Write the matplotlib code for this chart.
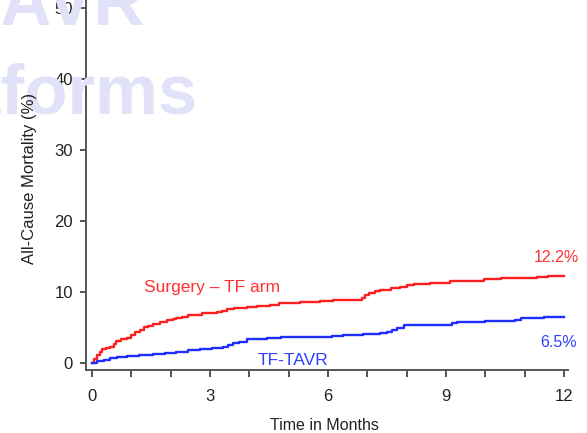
import numpy as np
import matplotlib
matplotlib.use("Agg")
from matplotlib import pyplot as plt
from matplotlib.ticker import MultipleLocator

plt.rcParams['font.family'] = ['Liberation Sans', 'DejaVu Sans']

# Kaplan-Meier style step data (months, cumulative mortality %)
surg_t = [0, 0.05, 0.12, 0.2, 0.25, 0.35, 0.46, 0.55, 0.62, 0.75, 0.88, 1.0, 1.1, 1.22,
          1.33, 1.43, 1.55, 1.73, 1.9, 2.05, 2.15, 2.3, 2.45, 2.58, 2.8, 3.17, 3.3, 3.43,
          3.6, 3.8, 3.94, 4.2, 4.53, 4.75, 4.95, 5.3, 5.8, 6.13, 6.5, 6.86, 6.95, 7.03,
          7.2, 7.33, 7.6, 7.84, 8.0, 8.18, 8.6, 9.1, 9.5, 9.96, 10.4, 10.81, 11.3, 11.6, 12.0]
surg_v = [0, 0.5, 1.1, 1.5, 1.9, 2.1, 2.3, 2.7, 3.1, 3.3, 3.5, 3.9, 4.3, 4.7,
          5.0, 5.2, 5.5, 5.8, 6.0, 6.2, 6.3, 6.5, 6.7, 6.8, 7.0, 7.1, 7.3, 7.6,
          7.7, 7.8, 7.9, 8.0, 8.2, 8.4, 8.5, 8.6, 8.7, 8.8, 8.9, 9.1, 9.5, 9.9,
          10.1, 10.3, 10.5, 10.7, 10.9, 11.1, 11.3, 11.5, 11.6, 11.8, 11.9, 12.0, 12.1, 12.2, 12.2]

tavr_t = [0, 0.12, 0.3, 0.46, 0.65, 0.88, 1.2, 1.56, 1.85, 2.15, 2.45, 2.75, 3.05, 3.34,
          3.45, 3.59, 3.75, 3.94, 4.44, 4.8, 5.12, 6.1, 6.38, 6.9, 7.33, 7.5, 7.62, 7.75,
          7.92, 8.5, 9.02, 9.15, 9.28, 10.0, 10.64, 10.75, 10.9, 11.5, 11.8, 12.0]
tavr_v = [0, 0.2, 0.4, 0.66, 0.8, 1.0, 1.1, 1.3, 1.45, 1.6, 1.75, 1.9, 2.1, 2.3,
          2.5, 2.8, 3.0, 3.3, 3.5, 3.6, 3.7, 3.75, 3.9, 4.0, 4.2, 4.4, 4.6, 4.9,
          5.3, 5.35, 5.4, 5.6, 5.8, 5.85, 5.9, 6.1, 6.3, 6.4, 6.5, 6.5]

surg_final = 12.2
tavr_final = 6.5

W, H = 587, 433
fig = plt.figure(figsize=(W / 100, H / 100), dpi=100)

# axes box in pixels: left 86, right 568, bottom 370, top 0
ax = fig.add_axes([86 / W, 1 - 370 / H, (568 - 86) / W, 370 / H])
ax.set_xlim(-0.15, 12.1)
ax.set_ylim(-1.0, 51.1)

red = '#ff1f1f'
blue = '#1f2fff'
ax.step(surg_t, surg_v, where='post', color=red, lw=1.7)
ax.step(tavr_t, tavr_v, where='post', color=blue, lw=1.7)

ax.text(3.05, 10.6, 'Surgery \u2013 TF arm', color='#ff3030', fontsize=12.5,
        ha='center', va='center')
ax.text(5.1, 0.4, 'TF-TAVR', color='#3040ff', fontsize=12.5, ha='center', va='center')
ax.text(11.8, surg_final + 2.6, f'{surg_final}%', color='#ff3030', fontsize=11.5,
        ha='center', va='center')
ax.text(11.85, tavr_final - 3.6, f'{tavr_final}%', color='#3040ff', fontsize=11.5,
        ha='center', va='center')

for s in ['top', 'right']:
    ax.spines[s].set_visible(False)
for s in ['left', 'bottom']:
    ax.spines[s].set_color('#555555')
    ax.spines[s].set_linewidth(1.4)

ax.set_xticks([0, 3, 6, 9, 12])
ax.xaxis.set_minor_locator(MultipleLocator(1))
ax.set_yticks([0, 10, 20, 30, 40, 50])
ax.tick_params(axis='x', which='both', direction='out', length=5, width=1.3,
               color='#444444', labelsize=12, pad=9, labelcolor='#222222')
ax.tick_params(axis='y', which='both', direction='out', length=4.5, width=1.3,
               color='#444444', labelsize=12, pad=5, labelcolor='#222222')

fig.text(30 / W, 1 - 178 / H, 'All-Cause Mortality (%)', rotation=90, fontsize=12,
         ha='center', va='center', color='#222222')
fig.text(324 / W, 1 - 425 / H, 'Time in Months', fontsize=11.5,
         ha='center', va='center', color='#222222')

# light title fragments over the top-left corner, drawn above the axis labels
wm = dict(fontsize=51, fontweight='bold', color='#e1e1f8', ha='right', va='baseline',
          zorder=20, clip_on=False, transform=fig.transFigure)
ax.text(145 / W, 1 - 25 / H, 'SAVR', **wm)
ax.text(197 / W, 1 - 114 / H, 'tforms', **wm)

fig.savefig('out.png', dpi=100)
